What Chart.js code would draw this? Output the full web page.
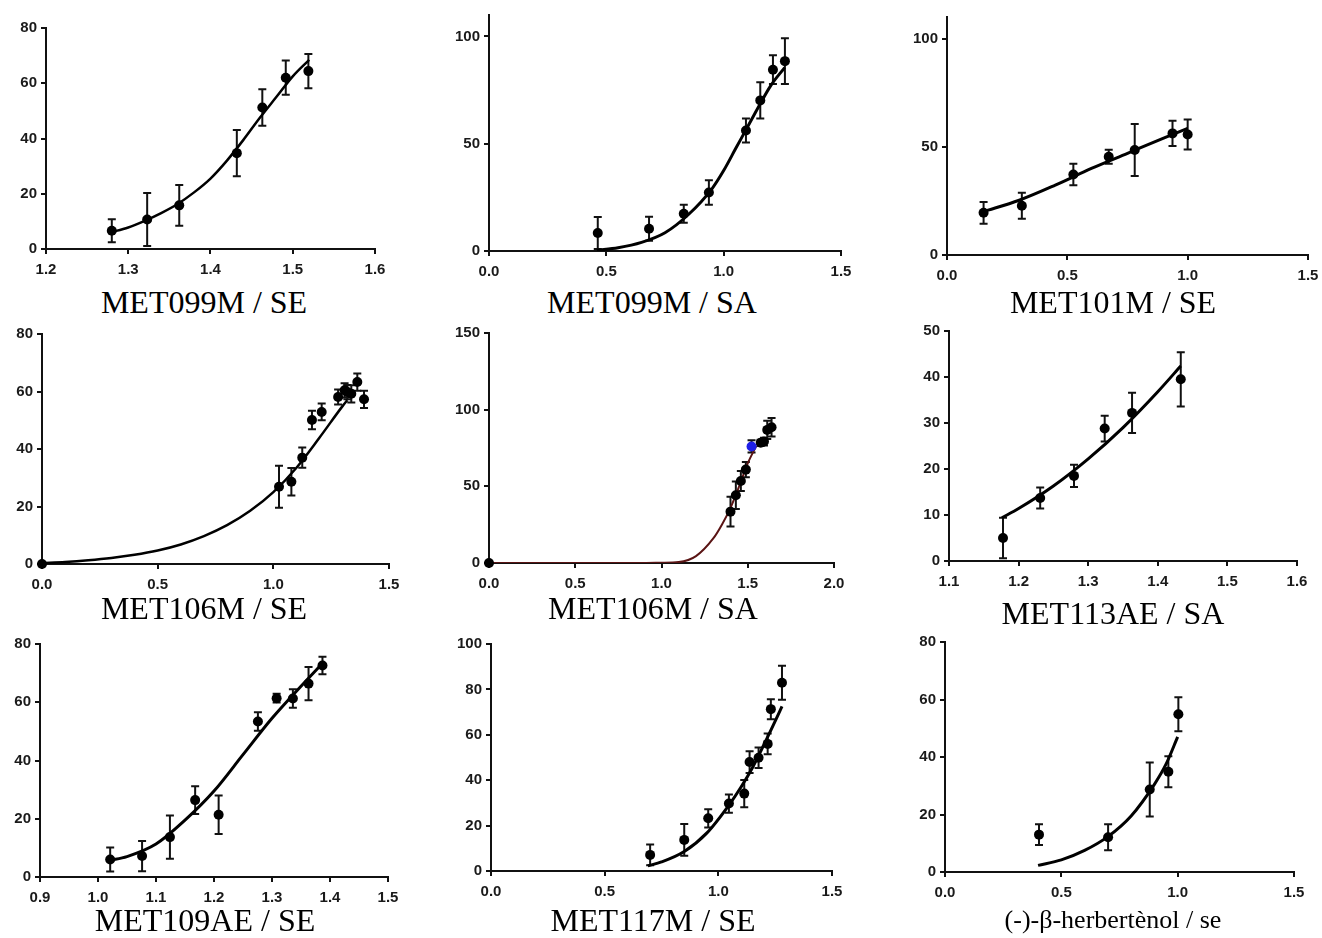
<!DOCTYPE html>
<html>
<head>
<meta charset="utf-8">
<script src="https://cdn.jsdelivr.net/npm/chart.js@4.4.1/dist/chart.umd.min.js"></script>
<style>
  body { margin: 0; background: #fff; width: 1322px; height: 938px; position: relative; overflow: hidden; }
  canvas { position: absolute; }
  .ttl { position: absolute; font-family: "Liberation Serif", "Times New Roman", serif; font-size: 32px; color: #000;
         white-space: nowrap; transform: translate(-50%, -50%); line-height: 1; }
</style>
</head>
<body>
<script>
// MET099M / SE
const p1X = [1.280, 1.323, 1.362, 1.432, 1.463, 1.4915, 1.519];
const p1Y = [6.6, 10.7, 15.8, 34.7, 51.2, 62.0, 64.4];
const p1E = [4.2, 9.6, 7.4, 8.4, 6.6, 6.2, 6.2];
const p1FitX = [1.278, 1.30, 1.32, 1.34, 1.36, 1.38, 1.40, 1.42, 1.44, 1.46, 1.48, 1.50, 1.52];
const p1FitY = [6.0, 7.8, 10.2, 13.0, 16.3, 20.5, 25.5, 32, 39.5, 47.5, 55, 62.5, 68.5];

// MET099M / SA
const p2X = [0.4635, 0.682, 0.830, 0.937, 1.095, 1.156, 1.210, 1.261];
const p2Y = [8.4, 10.4, 17.4, 27.3, 56.2, 70.2, 84.5, 88.5];
const p2E = [7.5, 5.6, 4.2, 5.7, 5.6, 8.4, 6.7, 10.7];
const p2FitX = [0.46, 0.55, 0.65, 0.75, 0.85, 0.95, 1.0, 1.05, 1.10, 1.15, 1.20, 1.26];
const p2FitY = [0.3, 1.5, 4, 8.5, 17, 29, 37.5, 47.5, 57.5, 67.5, 77, 85.5];

// MET101M / SE
const p3X = [0.152, 0.311, 0.525, 0.672, 0.780, 0.937, 1.0];
const p3Y = [19.5, 22.8, 37.2, 45.4, 48.5, 56.2, 55.7];
const p3E = [5, 6, 5, 3.2, 12, 5.8, 6.9];
const p3FitX = [0.15, 0.3, 0.45, 0.6, 0.75, 0.9, 1.0];
const p3FitY = [20, 25.3, 32.3, 40, 47, 54, 58.5];

// MET106M / SE
const p4X = [0, 1.0245, 1.078, 1.125, 1.167, 1.209, 1.280, 1.308, 1.320, 1.337, 1.363, 1.392];
const p4Y = [0, 26.9, 28.6, 37.0, 50.1, 52.9, 58.1, 60.4, 59.8, 59.2, 63.3, 57.3];
const p4E = [0, 7.3, 4.8, 3.5, 3.2, 2.9, 2.6, 2.5, 2.5, 3, 3, 3];
const p4FitX = [0, 0.1, 0.2, 0.3, 0.4, 0.5, 0.6, 0.7, 0.8, 0.9, 1.0, 1.1, 1.2, 1.3, 1.32];
const p4FitY = [0.3, 0.7, 1.3, 2.1, 3.2, 4.7, 6.8, 9.7, 13.5, 18.5, 25, 33.5, 44, 55, 57];

// MET106M / SA
const p5X = [0, 1.400, 1.431, 1.460, 1.489, 1.575, 1.594, 1.613, 1.638];
const p5Y = [0, 33.5, 44.2, 53.5, 60.9, 78.4, 79.2, 86.8, 88.5];
const p5E = [0, 9.7, 9, 6.5, 5, 2, 2.5, 6, 6];
const p5BlueX = [1.522];
const p5BlueY = [76.0];
const p5BlueE = [4];
const p5FitX = [0, 0.5, 0.9, 1.0, 1.1, 1.2, 1.3, 1.35, 1.4, 1.45, 1.5, 1.55];
const p5FitY = [0, 0, 0.05, 0.2, 0.6, 4.5, 16, 25, 36, 50, 65, 76.5];

// MET113AE / SA
const p6X = [1.1776, 1.231, 1.2796, 1.3237, 1.363, 1.433];
const p6Y = [5.0, 13.7, 18.5, 28.8, 32.2, 39.5];
const p6E = [4.4, 2.3, 2.4, 2.8, 4.4, 5.9];
const p6FitX = [1.176, 1.2, 1.25, 1.3, 1.35, 1.4, 1.433];
const p6FitY = [9.4, 11.4, 16.3, 22.2, 29.0, 36.8, 42.4];

// MET109AE / SE
const p7X = [1.021, 1.076, 1.124, 1.1675, 1.208, 1.2757, 1.308, 1.336, 1.363, 1.387];
const p7Y = [6.0, 7.2, 13.7, 26.4, 21.4, 53.4, 61.4, 61.3, 66.4, 72.6];
const p7E = [4.1, 5.2, 7.4, 4.8, 6.6, 3.2, 1.5, 3.2, 5.7, 3];
const p7FitX = [1.02, 1.05, 1.10, 1.15, 1.20, 1.25, 1.30, 1.35, 1.39];
const p7FitY = [5.7, 7.0, 11.3, 19.5, 29.5, 42, 54.5, 65.5, 74];

// MET117M / SE
const p8X = [0.700, 0.850, 0.9555, 1.0465, 1.114, 1.1375, 1.177, 1.217, 1.231, 1.280];
const p8Y = [7.1, 13.7, 23.2, 29.7, 34.1, 48.0, 49.9, 56.0, 71.3, 82.9];
const p8E = [4.6, 7, 4, 4, 6, 4.8, 4.5, 4.6, 4.4, 7.5];
const p8FitX = [0.69, 0.75, 0.85, 0.95, 1.05, 1.10, 1.15, 1.20, 1.25, 1.28];
const p8FitY = [2.3, 4.0, 8.6, 16.8, 29.5, 37, 45.5, 55.5, 66, 72.5];

// (-)-β-herbertènol / se
const p9X = [0.404, 0.701, 0.880, 0.960, 1.003];
const p9Y = [13.0, 12.1, 28.7, 34.9, 54.9];
const p9E = [3.6, 4.5, 9.4, 5.4, 5.9];
const p9FitX = [0.40, 0.5, 0.6, 0.7, 0.8, 0.9, 0.95, 1.0];
const p9FitY = [2.3, 4.2, 7.5, 12.3, 19.5, 30.5, 37.5, 47.0];

// tick labels
const ticks12to16 = [1.2, 1.3, 1.4, 1.5, 1.6];
const ticks11to16 = [1.1, 1.2, 1.3, 1.4, 1.5, 1.6];
const ticks09to15 = [0.9, 1.0, 1.1, 1.2, 1.3, 1.4, 1.5];
const ticks0to15 = [0, 0.5, 1.0, 1.5];
const ticks0to2 = [0, 0.5, 1.0, 1.5, 2.0];
const ticksY80 = [0, 20, 40, 60, 80];
const ticksY100 = [0, 20, 40, 60, 80, 100];
const ticksY50s = [0, 50, 100];
const ticksY150 = [0, 50, 100, 150];
const ticksY50 = [0, 10, 20, 30, 40, 50];

Chart.defaults.font.family = 'Arial, "Liberation Sans", sans-serif';

const errorBars = {
  id: 'errorBars',
  beforeDatasetsDraw(chart) {
    const { ctx, scales: { x, y } } = chart;
    ctx.save();
    ctx.strokeStyle = '#111';
    ctx.lineWidth = 2;
    chart.data.datasets.forEach(ds => {
      if (!ds.errors) return;
      ds.data.forEach((p, i) => {
        const e = ds.errors[i];
        if (!e) return;
        const px = x.getPixelForValue(p.x);
        const top = y.getPixelForValue(p.y + e);
        const bot = y.getPixelForValue(p.y - e);
        ctx.beginPath();
        ctx.moveTo(px, top); ctx.lineTo(px, bot);
        ctx.moveTo(px - 4, top); ctx.lineTo(px + 4, top);
        ctx.moveTo(px - 4, bot); ctx.lineTo(px + 4, bot);
        ctx.stroke();
      });
    });
    ctx.restore();
  }
};

const pts = (xs, ys) => xs.map((v, i) => ({ x: v, y: ys[i] }));

function axis(min, max, tickVals, fmt, isX) {
  return {
    type: 'linear',
    min, max,
    afterBuildTicks: s => { s.ticks = tickVals.map(v => ({ value: v })); },
    afterFit: s => { if (isX) s.height = 32; else s.width = 50; },
    ticks: {
      callback: fmt, autoSkip: false, maxRotation: 0,
      font: { size: 15, weight: 'bold' }, color: '#1a1a1a', padding: isX ? 7 : 4
    },
    grid: { drawOnChartArea: false, drawTicks: true, tickLength: 5, color: '#111', lineWidth: 2 },
    border: { display: true, color: '#111', width: 2 }
  };
}

const fmtX = v => v.toFixed(1);
const fmtY = v => String(v);

function panel(box, xr, yr, datasets, title, titlePos, titleSize) {
  const [l, t, r, b] = box;
  const cv = document.createElement('canvas');
  const w = (r - l) + 50 + 24, h = (b - t) + 12 + 32;
  cv.width = w; cv.height = h;
  cv.style.left = (l - 50) + 'px';
  cv.style.top = (t - 12) + 'px';
  cv.style.width = w + 'px';
  cv.style.height = h + 'px';
  document.body.appendChild(cv);
  new Chart(cv, {
    type: 'scatter',
    data: { datasets },
    options: {
      responsive: false,
      animation: false,
      devicePixelRatio: 1,
      layout: { padding: { left: 0, top: 12, right: 24, bottom: 0 } },
      plugins: { legend: { display: false }, tooltip: { enabled: false } },
      scales: {
        x: axis(xr[0], xr[1], xr[2], fmtX, true),
        y: axis(yr[0], yr[1], yr[2], fmtY, false)
      }
    },
    plugins: [errorBars]
  });
  const d = document.createElement('div');
  d.className = 'ttl';
  d.textContent = title;
  d.style.left = titlePos[0] + 'px';
  d.style.top = titlePos[1] + 'px';
  if (titleSize) d.style.fontSize = titleSize + 'px';
  document.body.appendChild(d);
}

function markers(xs, ys, es, color) {
  return {
    data: pts(xs, ys), errors: es, showLine: false,
    pointRadius: 5, pointHoverRadius: 5, pointBorderWidth: 0,
    backgroundColor: color || '#000', borderColor: color || '#000', clip: false
  };
}

function fit(xs, ys, color, width) {
  return {
    data: pts(xs, ys), showLine: true, pointRadius: 0, pointHoverRadius: 0,
    borderColor: color || '#000', borderWidth: width || 2.5,
    cubicInterpolationMode: 'monotone', fill: false
  };
}

panel([46, 27, 375, 249], [1.2, 1.6, ticks12to16], [0, 80, ticksY80],
  [markers(p1X, p1Y, p1E), fit(p1FitX, p1FitY)], 'MET099M / SE', [204, 302]);

panel([489, 14, 841, 251], [0, 1.5, ticks0to15], [0, 110, ticksY50s],
  [markers(p2X, p2Y, p2E), fit(p2FitX, p2FitY, '#000', 3)], 'MET099M / SA', [652, 302]);

panel([947, 16, 1308, 255], [0, 1.5, ticks0to15], [0, 110, ticksY50s],
  [markers(p3X, p3Y, p3E), fit(p3FitX, p3FitY, '#000', 3)], 'MET101M / SE', [1113, 302]);

panel([42, 333, 389, 564], [0, 1.5, ticks0to15], [0, 80, ticksY80],
  [markers(p4X, p4Y, p4E), fit(p4FitX, p4FitY)], 'MET106M / SE', [204, 608]);

panel([489, 332, 834, 563], [0, 2.0, ticks0to2], [0, 150, ticksY150],
  [markers(p5BlueX, p5BlueY, p5BlueE, '#1f1fe6'), markers(p5X, p5Y, p5E), fit(p5FitX, p5FitY, '#5a1414', 2)],
  'MET106M / SA', [653, 608]);

panel([949, 330, 1297, 561], [1.1, 1.6, ticks11to16], [0, 50, ticksY50],
  [markers(p6X, p6Y, p6E), fit(p6FitX, p6FitY, '#000', 3)], 'MET113AE / SA', [1113, 613]);

panel([40, 643, 388, 877], [0.9, 1.5, ticks09to15], [0, 80, ticksY80],
  [markers(p7X, p7Y, p7E), fit(p7FitX, p7FitY, '#000', 3)], 'MET109AE / SE', [205, 920]);

panel([491, 643, 832, 871], [0, 1.5, ticks0to15], [0, 100, ticksY100],
  [markers(p8X, p8Y, p8E), fit(p8FitX, p8FitY, '#000', 3)], 'MET117M / SE', [653, 920]);

panel([945, 641, 1294, 872], [0, 1.5, ticks0to15], [0, 80, ticksY80],
  [markers(p9X, p9Y, p9E), fit(p9FitX, p9FitY, '#000', 3)], '(-)-β-herbertènol / se', [1113, 920], 26);
</script>
</body>
</html>
